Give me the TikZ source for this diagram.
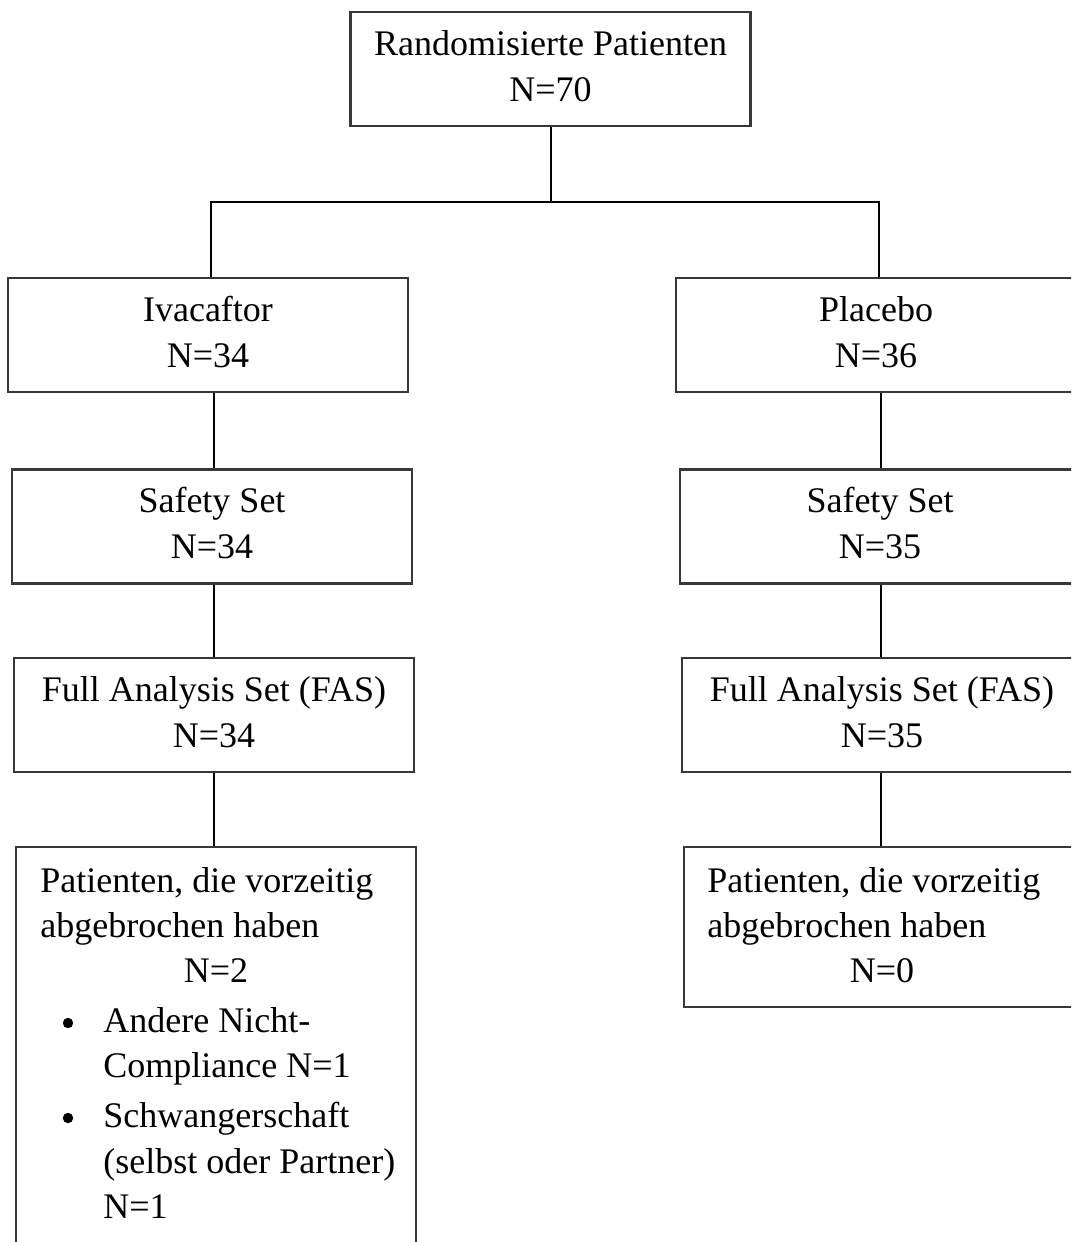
\documentclass[tikz,border=0pt]{standalone}
\usepackage{fontspec}
\setmainfont{Liberation Serif}
\begin{document}
\begin{tikzpicture}[x=0.5pt,y=-0.5pt,
  box/.style={draw=black!78,line width=1.2pt,fill=white,inner sep=0pt,
    minimum width=200pt,minimum height=57pt,align=center,
    font=\fontsize{18pt}{23pt}\selectfont},
  txt/.style={inner sep=0pt,font=\fontsize{18pt}{23pt}\selectfont},
  dot/.style={circle,fill=black,inner sep=0pt,minimum size=5.2pt},
  conn/.style={draw=black,line width=1pt}]
\fill[white] (0,0) rectangle (1071,1242);
\clip (0,0) rectangle (1071,1242);

% boxes
\node[box] (top) at (550.5,69) {\strut Randomisierte Patienten\\\strut N=70};
\node[box] (ivac) at (208,335) {\strut Ivacaftor\\\strut N=34};
\node[box] (plac) at (876,335) {\strut Placebo\\\strut N=36};
\node[box] (safL) at (212,526.5) {\strut Safety Set\\\strut N=34};
\node[box] (safR) at (880,526.5) {\strut Safety Set\\\strut N=35};
\node[box] (fasL) at (214,715) {\strut Full Analysis Set (FAS)\\\strut N=34};
\node[box] (fasR) at (882,715) {\strut Full Analysis Set (FAS)\\\strut N=35};
\node[box,minimum height=250pt,anchor=north] (patL) at (216,846) {};
\node[box,minimum width=198pt,minimum height=80pt,anchor=north] (patR) at (882,846) {};

% text of left patients box
\node[txt,anchor=base west] (pl1) at (40,892) {Patienten, die vorzeitig};
\node[txt,anchor=base west] (pl2) at (40,937) {abgebrochen haben};
\node[txt,anchor=base] (pl3) at (216,982) {N=2};
\node[dot] (b1) at (68,1023) {};
\node[txt,anchor=base west] (pl4) at (103,1032) {Andere Nicht-};
\node[txt,anchor=base west] (pl5) at (103,1077) {Compliance N=1};
\node[dot] (b2) at (68,1118) {};
\node[txt,anchor=base west] (pl6) at (103,1127) {Schwangerschaft};
\node[txt,anchor=base west] (pl7) at (103,1173) {(selbst oder Partner)};
\node[txt,anchor=base west] (pl8) at (103,1218) {N=1};

% text of right patients box
\node[txt,anchor=base west] (pr1) at (707,892) {Patienten, die vorzeitig};
\node[txt,anchor=base west] (pr2) at (707,937) {abgebrochen haben};
\node[txt,anchor=base] (pr3) at (882,982) {N=0};

% connectors
\coordinate (jL) at (211,202);
\coordinate (jR) at (879,202);
\coordinate (colL) at (214,0);
\coordinate (colR) at (881,0);
\draw[conn] (top.south) -- (top.south |- jL);
\draw[conn] (ivac.north -| jL) -- (jL) -- (jR) -- (plac.north -| jR);
\draw[conn] (ivac.south -| colL) -- (safL.north -| colL);
\draw[conn] (safL.south -| colL) -- (fasL.north -| colL);
\draw[conn] (fasL.south -| colL) -- (patL.north -| colL);
\draw[conn] (plac.south -| colR) -- (safR.north -| colR);
\draw[conn] (safR.south -| colR) -- (fasR.north -| colR);
\draw[conn] (fasR.south -| colR) -- (patR.north -| colR);
\end{tikzpicture}
\end{document}
